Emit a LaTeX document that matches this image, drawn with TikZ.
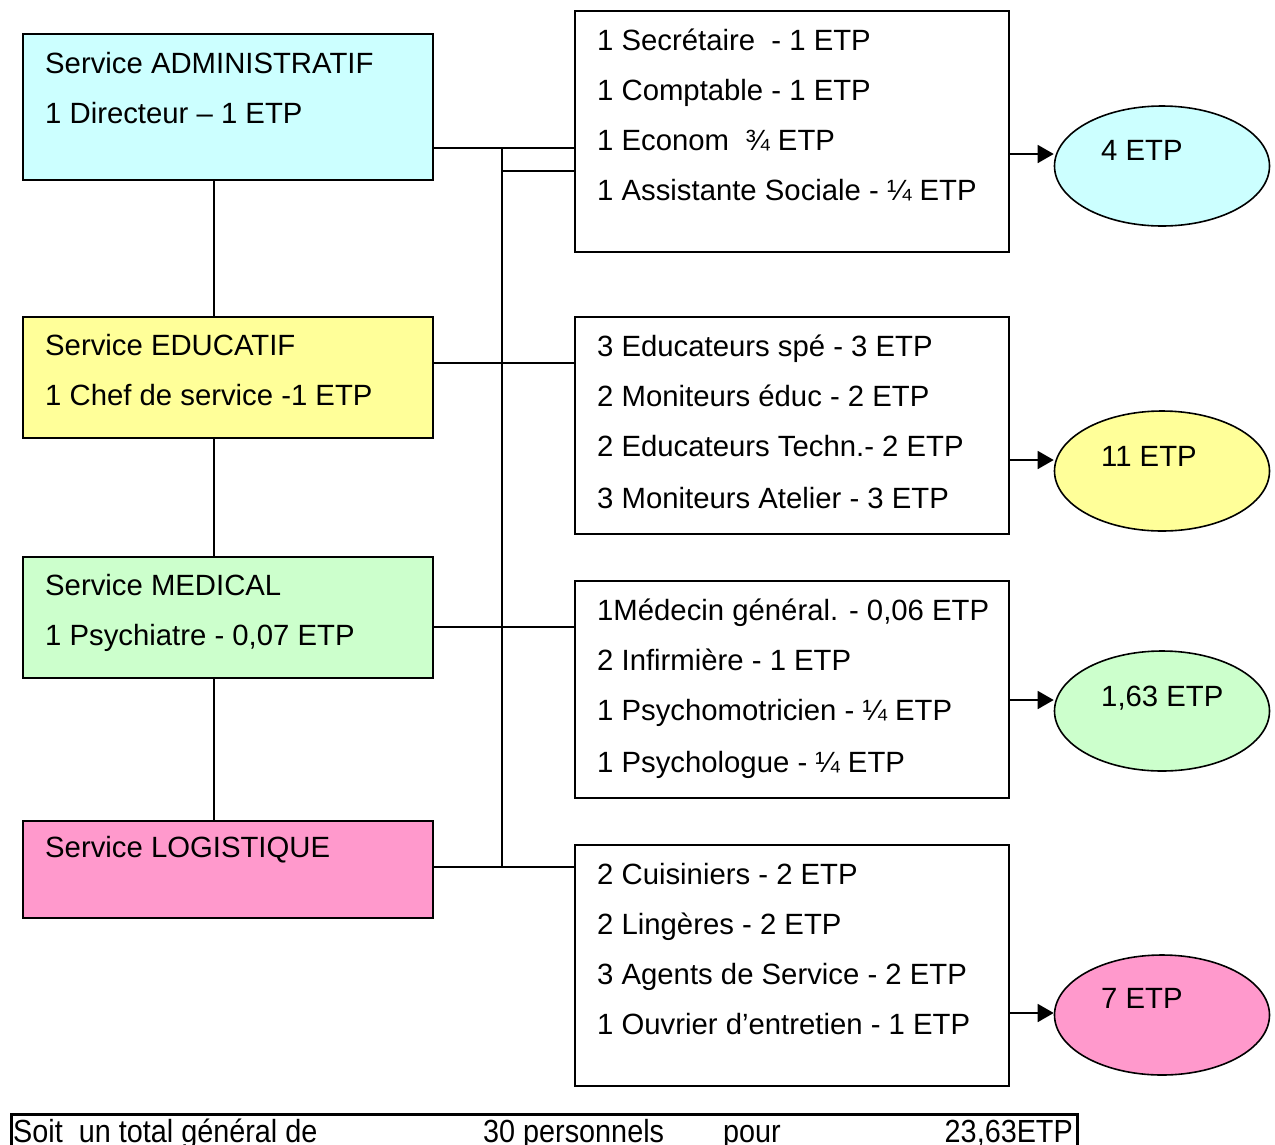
\documentclass[tikz,border=0pt]{standalone}
\usepackage{fontspec}
\setmainfont{Liberation Sans}
\newfontfamily\narrowfont[FakeStretch=0.9]{Liberation Sans}
\usetikzlibrary{shapes.geometric,arrows.meta}

\definecolor{admfill}{HTML}{CCFFFF}
\definecolor{edufill}{HTML}{FFFF99}
\definecolor{medfill}{HTML}{CCFFCC}
\definecolor{logfill}{HTML}{FF99CC}

\begin{document}
\begin{tikzpicture}[x=1pt,y=-1pt,
  box/.style={draw=black, line width=1.6pt, anchor=north west, inner sep=0pt},
  lbl/.style={anchor=base west, inner sep=0pt, font=\fontsize{29.3}{31}\selectfont},
  tot/.style={anchor=base west, inner sep=0pt, font=\narrowfont\fontsize{32}{34}\selectfont},
  oval/.style={ellipse, draw=black, line width=1.6pt, inner sep=0pt,
    minimum width=215pt, minimum height=120pt},
  link/.style={line width=1.6pt},
  flow/.style={line width=1.6pt, -{Triangle[length=16pt,width=18pt]}}]
\useasboundingbox (0,0) rectangle (1275,1144);

% Service boxes (left column)
\node[box, fill=admfill, minimum width=410pt, minimum height=146pt] (adm) at (22,33) {};
\node[box, fill=edufill, minimum width=410pt, minimum height=121pt] (edu) at (22,316) {};
\node[box, fill=medfill, minimum width=410pt, minimum height=121pt] (med) at (22,556) {};
\node[box, fill=logfill, minimum width=410pt, minimum height=97pt] (log) at (22,820) {};

\node[lbl] (adm1) at (45,73) {Service ADMINISTRATIF};
\node[lbl] (adm2) at (45,123) {1 Directeur – 1 ETP};
\node[lbl] (edu1) at (45,355) {Service EDUCATIF};
\node[lbl] (edu2) at (45,405) {1 Chef de service -1 ETP};
\node[lbl] (med1) at (45,595) {Service MEDICAL};
\node[lbl] (med2) at (45,645) {1 Psychiatre - 0,07 ETP};
\node[lbl] (log1) at (45,857) {Service LOGISTIQUE};

% Staff boxes (middle column)
\node[box, minimum width=434pt, minimum height=241pt] (st1) at (574,10) {};
\node[box, minimum width=434pt, minimum height=217pt] (st2) at (574,316) {};
\node[box, minimum width=434pt, minimum height=217pt] (st3) at (574,580) {};
\node[box, minimum width=434pt, minimum height=241pt] (st4) at (574,844) {};

\node[lbl] (a1) at (597,50) {1 Secrétaire\ \ - 1 ETP};
\node[lbl] (a2) at (597,100) {1 Comptable - 1 ETP};
\node[lbl] (a3) at (597,150) {1 Econom\ \ ¾ ETP};
\node[lbl] (a4) at (597,200) {1 Assistante Sociale - ¼ ETP};

\node[lbl] (b1) at (597,356) {3 Educateurs spé - 3 ETP};
\node[lbl] (b2) at (597,406) {2 Moniteurs éduc - 2 ETP};
\node[lbl] (b3) at (597,456) {2 Educateurs Techn.- 2 ETP};
\node[lbl] (b4) at (597,508) {3 Moniteurs Atelier - 3 ETP};

\node[lbl] (c1) at (597,620) {1Médecin général. - 0,06 ETP};
\node[lbl] (c2) at (597,670) {2 Infirmière - 1 ETP};
\node[lbl] (c3) at (597,720) {1 Psychomotricien - ¼ ETP};
\node[lbl] (c4) at (597,772) {1 Psychologue - ¼ ETP};

\node[lbl] (d1) at (597,884) {2 Cuisiniers - 2 ETP};
\node[lbl] (d2) at (597,934) {2 Lingères - 2 ETP};
\node[lbl] (d3) at (597,984) {3 Agents de Service - 2 ETP};
\node[lbl] (d4) at (597,1034) {1 Ouvrier d’entretien - 1 ETP};

% Totals per service (right column)
\node[oval, fill=admfill] (e1) at (1162,166) {};
\node[oval, fill=edufill] (e2) at (1162,471) {};
\node[oval, fill=medfill] (e3) at (1162,711) {};
\node[oval, fill=logfill] (e4) at (1162,1015) {};

\node[lbl] (t1) at (1101,160) {4 ETP};
\node[lbl] (t2) at (1101,466) {11 ETP};
\node[lbl] (t3) at (1101,706) {1,63 ETP};
\node[lbl] (t4) at (1101,1008) {7 ETP};

% Hierarchy line between services
\draw[link] (adm.south -| 214,0) -- (edu.north -| 214,0);
\draw[link] (edu.south -| 214,0) -- (med.north -| 214,0);
\draw[link] (med.south -| 214,0) -- (log.north -| 214,0);

% Bus linking services to their staff
\coordinate (bt) at (502,148);
\coordinate (bb) at (502,867);
\draw[link] (bt) -- (bb);
\draw[link] (adm.east |- 0,148) -- (st1.west |- 0,148);
\draw[link] (502,171) -- (st1.west |- 0,171);
\draw[link] (edu.east |- 0,363) -- (st2.west |- 0,363);
\draw[link] (med.east |- 0,627) -- (st3.west |- 0,627);
\draw[link] (log.east |- 0,867) -- (st4.west |- 0,867);

% Arrows to the totals
\draw[flow] (st1.east |- 0,154) -- (e1.west |- 0,154);
\draw[flow] (st2.east |- 0,460) -- (e2.west |- 0,460);
\draw[flow] (st3.east |- 0,700) -- (e3.west |- 0,700);
\draw[flow] (st4.east |- 0,1013) -- (e4.west |- 0,1013);

% Grand total bar
\node[box, line width=2.6pt, minimum width=1066pt, minimum height=60pt] (total) at (10,1113) {};
\node[tot] (s1) at (13,1142) {Soit\ \ un total général de};
\node[tot] (s2) at (483,1142) {30 personnels};
\node[tot] (s3) at (723,1142) {pour};
\node[tot, anchor=base east] (s4) at (1073,1142) {23,63ETP};
\end{tikzpicture}
\end{document}
